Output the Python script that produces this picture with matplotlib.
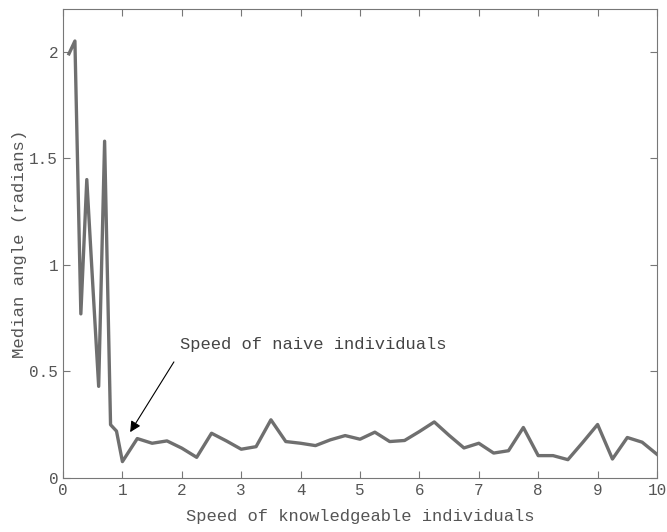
import numpy as np
import matplotlib.pyplot as plt

plt.rcParams['font.family'] = ['Liberation Mono', 'DejaVu Sans Mono']

# speed of knowledgeable individuals
speed = [0.1, 0.2, 0.3, 0.4, 0.5, 0.6, 0.7, 0.8, 0.9, 1.0,
         1.25, 1.5, 1.75, 2.0, 2.25, 2.5, 2.75, 3.0, 3.25, 3.5,
         3.75, 4.0, 4.25, 4.5, 4.75, 5.0, 5.25, 5.5, 5.75, 6.0,
         6.25, 6.5, 6.75, 7.0, 7.25, 7.5, 7.75, 8.0, 8.25, 8.5,
         8.75, 9.0, 9.25, 9.5, 9.75, 10.0]
# median angle (radians)
angle = [1.99, 2.05, 0.77, 1.40, 0.91, 0.43, 1.58, 0.25, 0.22, 0.077,
         0.185, 0.163, 0.174, 0.14, 0.097, 0.21, 0.174, 0.135, 0.147, 0.273,
         0.171, 0.163, 0.152, 0.179, 0.199, 0.182, 0.215, 0.171, 0.176, 0.218,
         0.263, 0.20, 0.141, 0.163, 0.117, 0.128, 0.237, 0.105, 0.105, 0.086,
         0.167, 0.251, 0.089, 0.19, 0.168, 0.111]

grey = '#6f6f6f'
fig = plt.figure(figsize=(6.67, 5.32), dpi=100)
ax = fig.add_axes([0.0945, 0.1015, 0.8905, 0.8815])
ax.plot(speed, angle, color=grey, lw=2.4)
ax.set_xlim(0, 10)
ax.set_ylim(0, 2.2)
ax.set_xticks(range(0, 11))
ax.set_yticks([0, 0.5, 1, 1.5, 2])
ax.set_yticklabels(['0', '0.5', '1', '1.5', '2'])
ax.tick_params(direction='in', top=True, right=True, length=5, colors='#777777',
               labelsize=11.5, labelcolor='#555555')
for s in ax.spines.values():
    s.set_color('#777777')
ax.set_xlabel('Speed of knowledgeable individuals', fontsize=12.3, color='#555555', labelpad=8)
ax.set_ylabel('Median angle (radians)', fontsize=12.5, color='#555555', labelpad=2)
ax.annotate('Speed of naive individuals', xy=(1.13, 0.215), xytext=(1.97, 0.626),
            fontsize=12.3, color='#444444', va='center',
            arrowprops=dict(arrowstyle='-|>', color='black', lw=0.8, relpos=(0, 0),
                            shrinkA=6, shrinkB=0, mutation_scale=16))
fig.savefig('out.png')
